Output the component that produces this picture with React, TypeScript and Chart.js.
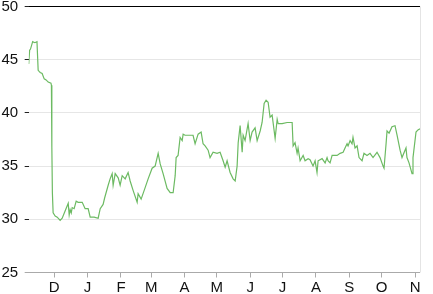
import React, { useEffect, useRef } from "react";
import { Chart, registerables } from "chart.js";

Chart.register(...registerables);

// x = days since Nov 1 of the first year
const days = [
  6.3, 7.2, 8, 10, 12, 14, 15.1, 16, 17, 18.8, 20.7, 22.5, 24.4, 27.0, 27.4, 27.8, 28.3, 29,
  30.9, 32.8, 35.5, 37.4, 40.2, 43, 43.9, 44.8, 45.8, 46.7, 48.5, 50.4, 52.2, 56, 58.7, 61.5,
  63.4, 67.1, 70.8, 72.7, 75.4, 76.8, 80.1, 81.9, 83.8, 84.7, 86.6, 89.4, 91.2, 93.1, 95.9,
  98.6, 100.5, 103.3, 107, 107.9, 110.7, 114.5, 117.2, 120.9, 123.7, 126.5, 128.4, 131.1,
  134.8, 137.7, 140.4, 142.3, 143.2, 145, 146.9, 148.8, 149.7, 151.5, 156.2, 158.9, 160.8,
  163.6, 166.4, 168.2, 170.1, 172.9, 174.7, 177.5, 181.2, 184, 186.8, 188.7, 190.5, 193.3,
  196.1, 198, 199.8, 200.8, 202.6, 204.5, 205.4, 207.2, 210, 211.9, 213.7, 216.5, 218.4,
  221.2, 223, 224.9, 226.7, 228.6, 230.4, 232.3, 235.1, 237, 237.9, 241.6, 246.2, 250.9,
  251.8, 253.6, 255.5, 256.4, 258.3, 261.1, 262.9, 265.7, 267.5, 270.3, 272.2, 274, 275,
  278.7, 281.5, 283.3, 284.2, 286.1, 288, 292.6, 295.4, 298.2, 300, 301.9, 302.8, 304.7,
  306.5, 307.4, 309.3, 311.2, 313, 315.8, 317.6, 320.4, 323.2, 326, 329.7, 332.5, 335.3,
  336.2, 338.1, 339, 340.9, 343.6, 346.4, 348.3, 351.1, 352.9, 353.8, 356.6, 357.5, 359.4,
  362.2, 363.1, 365.9, 367.7, 369.6,
];

const prices = [
  44.6, 45.9, 46.0, 46.7, 46.6, 46.7, 44.0, 43.9, 43.8, 43.7, 43.2, 43.1, 42.9, 42.8, 42.6, 36.8, 32.5, 30.6,
  30.3, 30.2, 29.9, 30.1, 30.8, 31.5, 30.4, 30.9, 30.6, 31.1, 31.0, 31.7, 31.6, 31.6, 31.0, 31.0,
  30.2, 30.2, 30.1, 31.0, 31.4, 32.0, 33.2, 33.8, 34.3, 33.2, 34.3, 33.9, 33.2, 34.1, 33.8,
  34.4, 33.6, 32.7, 31.6, 32.4, 31.9, 33.0, 33.8, 34.8, 35.0, 36.2, 35.2, 34.3,
  32.9, 32.5, 32.5, 34.1, 35.8, 36.0, 37.7, 37.4, 38.0, 37.9, 37.9, 37.9, 37.1,
  38.0, 38.2, 37.1, 36.9, 36.5, 35.8, 36.3, 36.2, 36.3, 35.5, 34.9, 35.5, 34.4,
  33.8, 33.6, 35.0, 37.2, 38.8, 36.3, 37.9, 37.4, 39.0, 37.4, 38.2, 38.6, 37.4,
  38.3, 39.1, 40.9, 41.2, 41.0, 39.6, 39.8, 37.6, 39.4, 39.0, 39.0, 39.1, 39.1,
  36.9, 37.2, 36.2, 36.7, 35.5, 36.0, 35.5, 35.7, 35.6, 35.0, 35.5, 34.4, 35.5,
  35.7, 35.3, 35.8, 35.5, 35.3, 36.0, 36.0, 36.2, 36.3, 36.7, 37.1, 36.9, 37.4,
  37.1, 37.7, 36.7, 36.9, 35.8, 35.5, 36.2, 36.0, 36.2, 35.8, 36.3, 35.8, 35.0,
  34.8, 37.1, 38.3, 38.1, 38.7, 38.8, 37.9, 36.5, 35.8, 35.8, 36.7, 35.8, 35.3,
  34.3, 35.8, 38.2, 38.4, 38.5,
];

const monthDays = [30, 61, 92, 120, 151, 181, 212, 242, 273, 304, 334, 365];
const monthLabels = ["D", "J", "F", "M", "A", "M", "J", "J", "A", "S", "O", "N"];
const yTicks = [25, 30, 35, 40, 45, 50];

const FONT = "'Liberation Sans', Arial, Helvetica, sans-serif";

export default function App() {
  const ref = useRef<HTMLCanvasElement | null>(null);

  useEffect(() => {
    document.body.style.margin = "0";
    const canvas = ref.current;
    if (!canvas) return;

    const rightLine = {
      id: "rightLine",
      afterDraw(chart: any) {
        const { ctx, chartArea } = chart;
        ctx.save();
        ctx.strokeStyle = "#e4e4e4";
        ctx.lineWidth = 1;
        ctx.beginPath();
        const x = Math.round(chartArea.right) + 0.5;
        ctx.moveTo(x, chartArea.top);
        ctx.lineTo(x, chartArea.bottom);
        ctx.stroke();
        ctx.restore();
      },
    };

    const chart = new Chart(canvas, {
      type: "line",
      data: {
        datasets: [
          {
            data: days.map((d, i) => ({ x: d, y: prices[i] })),
            borderColor: "#6cba62",
            borderWidth: 1.2,
            pointRadius: 0,
            tension: 0,
            fill: false,
          },
        ],
      },
      options: {
        responsive: false,
        animation: false,
        layout: { padding: { top: 0, right: 13, bottom: -3.5, left: -5 } },
        plugins: { legend: { display: false }, tooltip: { enabled: false } },
        scales: {
          x: {
            type: "linear",
            min: 6.3,
            max: 369.6,
            afterBuildTicks: (scale: any) => {
              scale.ticks = monthDays.map((v) => ({ value: v }));
            },
            ticks: {
              autoSkip: false,
              maxRotation: 0,
              padding: 1,
              color: "#111",
              font: { family: FONT, size: 15, lineHeight: 1.2 },
              callback: (_v: any, i: number) => monthLabels[i],
            },
            grid: {
              drawOnChartArea: false,
              drawTicks: true,
              tickLength: 5,
              color: "#aaaaaa",
            },
            border: { display: false },
          },
          y: {
            min: 25,
            max: 50,
            afterBuildTicks: (scale: any) => {
              scale.ticks = yTicks.map((v) => ({ value: v }));
            },
            ticks: {
              padding: 6.5,
              color: "#111",
              font: { family: FONT, size: 15, lineHeight: 0 },
            },
            grid: {
              tickLength: 4,
              color: (c: any) =>
                c.tick && c.tick.value === 50
                  ? "#000000"
                  : c.tick && c.tick.value === 25
                  ? "#aaaaaa"
                  : "#e6e6e6",
              tickColor: (c: any) =>
                c.tick && c.tick.value === 25 ? "#aaaaaa" : "#222222",
              lineWidth: 1,
            },
            border: { display: false },
          },
        },
      },
      plugins: [rightLine],
    });

    return () => chart.destroy();
  }, []);

  return (
    <div style={{ width: 433, height: 294, overflow: "hidden" }}>
      <canvas ref={ref} width={433} height={294} style={{ display: "block" }} />
    </div>
  );
}
